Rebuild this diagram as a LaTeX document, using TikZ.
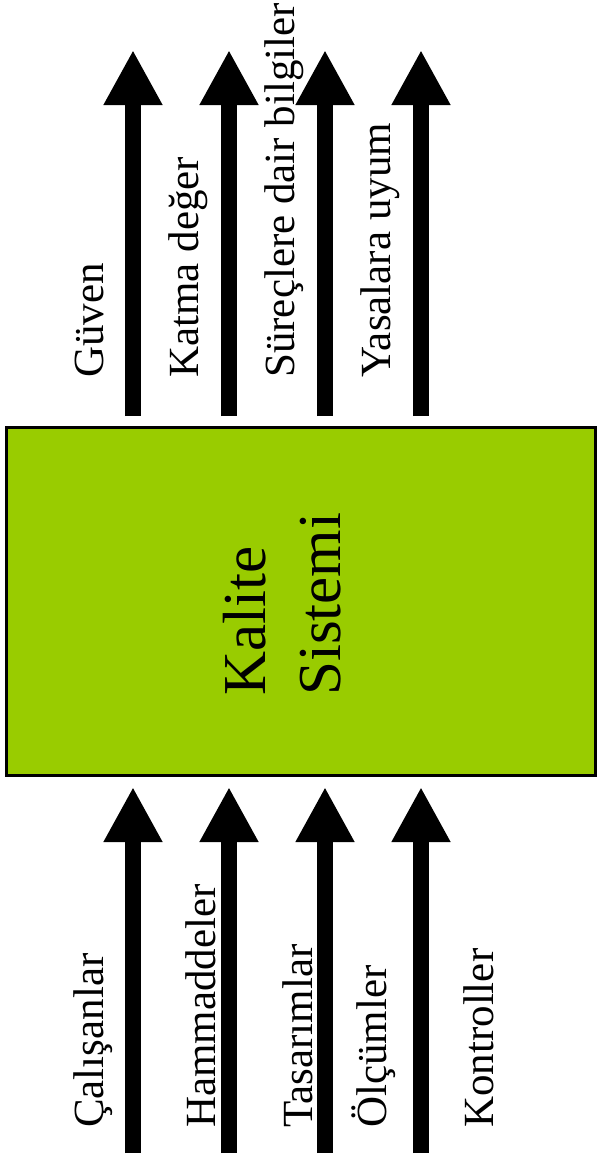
\documentclass[tikz,border=0pt]{standalone}
\usepackage{fontspec}
\setmainfont{Liberation Serif}
\usetikzlibrary{arrows.meta}
\definecolor{sysgreen}{HTML}{99CC00}
\begin{document}
\begin{tikzpicture}[x=1pt,y=-1pt,
  flow/.style={line width=16pt,-{Triangle[width=55pt,length=55pt]}},
  lbl/.style={rotate=90,anchor=base west,inner sep=0pt,font=\fontsize{43}{52}\selectfont},
  sysbox/.style={draw=black,line width=3pt,fill=sysgreen,minimum width=589pt,minimum height=348pt,inner sep=0pt}]
\useasboundingbox (0,0) rectangle (598,1165);

% central block
\node[sysbox] (sys) at (301,601.5) {};
\node[rotate=90,anchor=base west,inner sep=0pt,align=left,
      font=\fontsize{61}{75}\selectfont] (title) at (340,696) {Kalite\\Sistemi};

% outputs leaving the system
\foreach \i/\x in {1/133,2/229,3/325,4/421}{
  \coordinate (os\i) at (\x,416);
  \coordinate (oe\i) at (\x,50);
  \draw[flow] (os\i) -- (oe\i);
}
\node[lbl] (o1) at (103,378) {Güven};
\node[lbl] (o2) at (198,378) {Katma değer};
\node[lbl] (o3) at (294,378) {Süreçlere dair bilgiler};
\node[lbl] (o4) at (390,378) {Yasalara uyum};

% inputs entering the system
\foreach \i/\x in {1/133,2/229,3/325,4/421}{
  \coordinate (is\i) at (\x,1153);
  \coordinate (ie\i) at (\x,787);
  \draw[flow] (is\i) -- (ie\i);
}
\node[lbl] (i1) at (103,1128) {Çalışanlar};
\node[lbl] (i2) at (215,1128) {Hammaddeler};
\node[lbl] (i3) at (312,1128) {Tasarımlar};
\node[lbl] (i4) at (386,1128) {Ölçümler};
\node[lbl] (i5) at (493,1128) {Kontroller};
\end{tikzpicture}
\end{document}
